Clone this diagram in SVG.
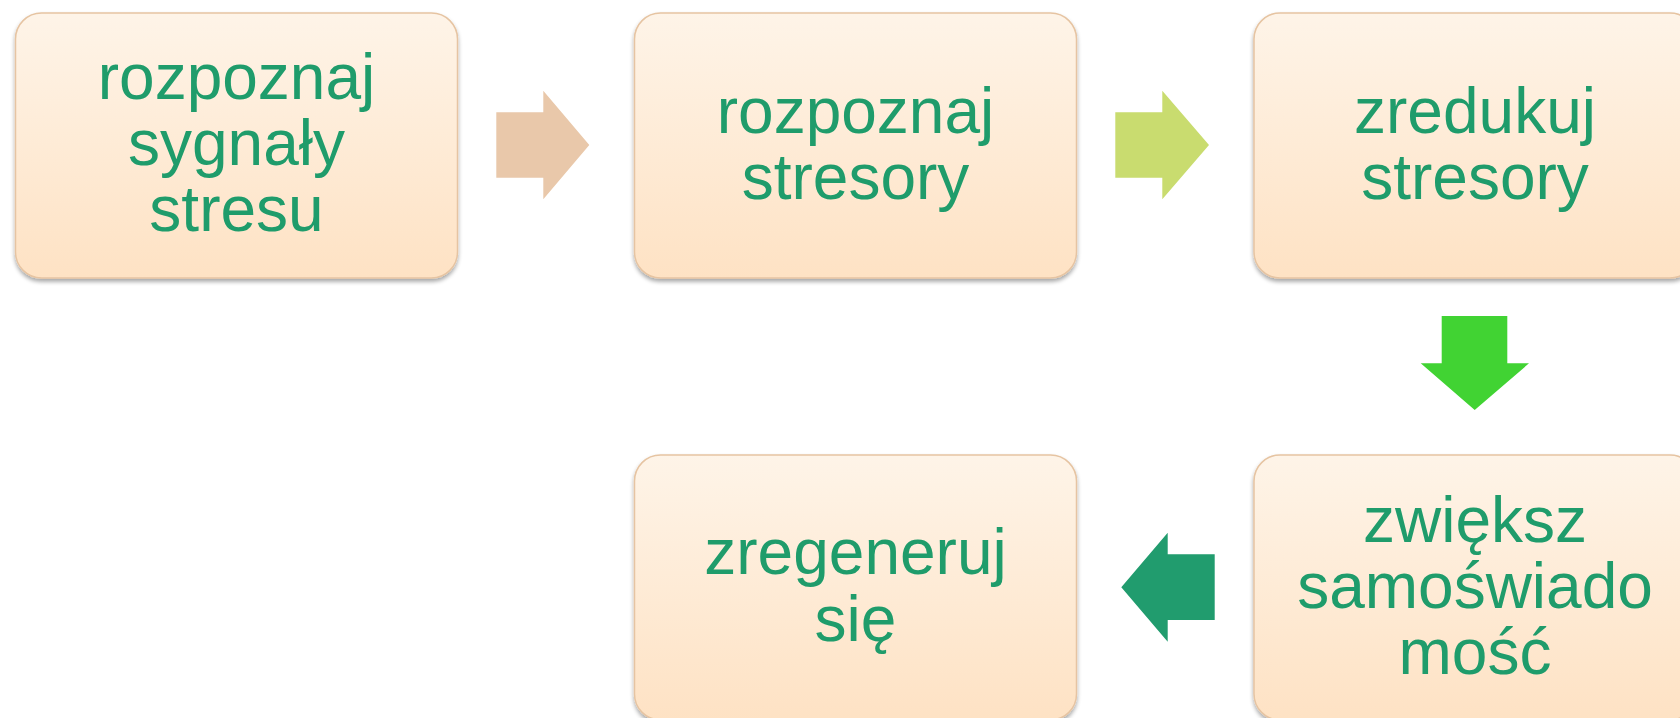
<svg xmlns="http://www.w3.org/2000/svg" width="1680" height="718" viewBox="0 0 1680 718">
<defs>
<linearGradient id="boxfill" x1="0" y1="0" x2="0" y2="1">
<stop offset="0" stop-color="#FEF4E8"/>
<stop offset="1" stop-color="#FEE2C4"/>
</linearGradient>
<filter id="shadow" x="-5%" y="-5%" width="110%" height="115%">
<feGaussianBlur in="SourceAlpha" stdDeviation="2"/>
<feOffset dx="0" dy="3" result="b"/>
<feComponentTransfer><feFuncA type="linear" slope="0.35"/></feComponentTransfer>
<feMerge><feMergeNode/><feMergeNode in="SourceGraphic"/></feMerge>
</filter>
</defs>
<style>
.box{fill:url(#boxfill);stroke:#E6C4A2;stroke-width:1.5;filter:url(#shadow)}
.lbl{font-family:"Liberation Sans",Arial,sans-serif;font-size:64px;fill:#1F9C6B;text-anchor:middle}
</style>
<rect width="1680" height="718" fill="#FFFFFF"/>
<g id="node1">
<rect class="box" x="15.5" y="13" width="442" height="265" rx="26"/>
<text class="lbl" x="236.5" y="98.8">rozpoznaj</text>
<text class="lbl" x="236.5" y="164.8">sygnały</text>
<text class="lbl" x="236.5" y="230.5">stresu</text>
</g>
<g id="node2">
<rect class="box" x="634.5" y="13" width="442" height="265" rx="26"/>
<text class="lbl" x="855.5" y="132.7">rozpoznaj</text>
<text class="lbl" x="855.5" y="199">stresory</text>
</g>
<g id="node3">
<rect class="box" x="1254" y="13" width="442" height="265" rx="26"/>
<text class="lbl" x="1475" y="132.7">zredukuj</text>
<text class="lbl" x="1475" y="199">stresory</text>
</g>
<g id="node4">
<rect class="box" x="1254" y="455" width="442" height="265" rx="26"/>
<text class="lbl" x="1475" y="541.5">zwiększ</text>
<text class="lbl" x="1475" y="607.8">samoświado</text>
<text class="lbl" x="1475" y="673.5">mość</text>
</g>
<g id="node5">
<rect class="box" x="634.5" y="455" width="442" height="265" rx="26"/>
<text class="lbl" x="855.5" y="574.3">zregeneruj</text>
<text class="lbl" x="855.5" y="641">się</text>
</g>
<g id="connectors">
<polygon fill="#E9C8AA" points="496.3,112.3 543.3,112.3 543.3,90.7 589.3,145 543.3,199.3 543.3,177.7 496.3,177.7"/>
<polygon fill="#C9DC6F" points="1115.3,112.3 1162.3,112.3 1162.3,90.7 1209,145 1162.3,199.3 1162.3,177.7 1115.3,177.7"/>
<polygon fill="#41D333" points="1441.7,316 1507.3,316 1507.3,363.3 1529,363.3 1474.7,410 1420.7,363.3 1441.7,363.3"/>
<polygon fill="#219C6E" points="1214.7,554.3 1167.7,554.3 1167.7,532.7 1121.3,587.3 1167.7,641.7 1167.7,620 1214.7,620"/>
</g>
</svg>
